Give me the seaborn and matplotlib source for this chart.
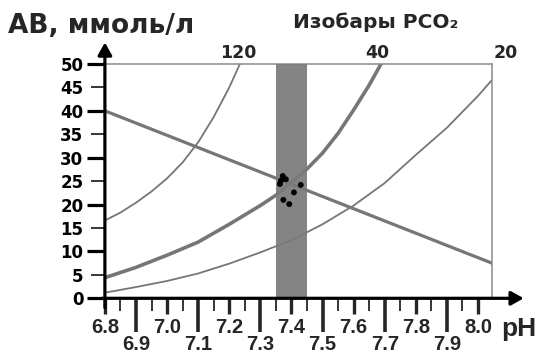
import numpy as np
import pandas as pd
import matplotlib
matplotlib.use("Agg")
import matplotlib.pyplot as plt
import seaborn as sns

# ---------------- data ----------------
ph_120 = [6.80, 6.85, 6.90, 6.95, 7.00, 7.05, 7.10, 7.15, 7.20, 7.234]
ab_120 = [16.6, 18.3, 20.4, 22.8, 25.6, 29.0, 33.3, 38.7, 45.0, 50.0]

ph_40 = [6.80, 6.90, 7.00, 7.10, 7.20, 7.30, 7.35, 7.40, 7.45, 7.50, 7.55, 7.60, 7.65, 7.688]
ab_40 = [4.4, 6.6, 9.2, 12.0, 15.8, 19.8, 22.0, 24.8, 27.6, 31.0, 35.2, 40.2, 45.5, 50.0]

ph_20 = [6.80, 6.90, 7.00, 7.10, 7.20, 7.30, 7.40, 7.50, 7.60, 7.70, 7.80, 7.90, 8.00, 8.045]
ab_20 = [1.2, 2.4, 3.7, 5.3, 7.4, 9.8, 12.4, 15.8, 19.8, 24.6, 30.6, 36.4, 43.2, 46.6]

ph_buffer = [6.80, 8.045]
ab_buffer = [40.0, 7.5]

dot_ph = [7.372, 7.382, 7.363, 7.366, 7.430, 7.408, 7.374, 7.393]
dot_ab = [26.1, 25.4, 24.4, 25.1, 24.2, 22.6, 21.0, 20.1]

norm_band = [7.35, 7.45]

isobar_labels = ["120", "40", "20"]
isobar_label_ph = [7.23, 7.675, 8.09]

y_ticks = [0, 5, 10, 15, 20, 25, 30, 35, 40, 45, 50]
y_ticklabels = ["0", "5", "10", "15", "20", "25", "30", "35", "40", "45", "50"]
x_row1 = ["6.8", "7.0", "7.2", "7.4", "7.6", "7.8", "8.0"]
x_row2 = ["6.9", "7.1", "7.3", "7.5", "7.7", "7.9"]

title_left = "АВ, ммоль/л"
title_right = "Изобары PCO₂"
x_name = "pH"

# ---------------- figure ----------------
sns.set_style("white")
plt.rcParams["font.family"] = ["DejaVu Sans"]

W, H = 539, 354
fig = plt.figure(figsize=(W / 100, H / 100), dpi=100)
x0, x1, y0, y1 = 104.9, 492.0, 298.3, 64.0
ax = fig.add_axes([x0 / W, (H - y0) / H, (x1 - x0) / W, (y0 - y1) / H])
ax.set_xlim(6.8, 8.045)
ax.set_ylim(0, 50)

line_col = "#767676"
sns.lineplot(x=ph_120, y=ab_120, ax=ax, color=line_col, lw=1.3, sort=False, zorder=2)
sns.lineplot(x=ph_20, y=ab_20, ax=ax, color=line_col, lw=1.3, sort=False, zorder=2)
sns.lineplot(x=ph_40, y=ab_40, ax=ax, color=line_col, lw=2.6, sort=False, zorder=2)
sns.lineplot(x=ph_buffer, y=ab_buffer, ax=ax, color=line_col, lw=2.3, sort=False, zorder=2)

ax.axvspan(norm_band[0], norm_band[1], color="#7a7a7a", alpha=0.92, lw=0, zorder=3)
sns.scatterplot(x=dot_ph, y=dot_ab, ax=ax, color="black", s=18, edgecolor="none",
                zorder=4, legend=False)

# frame
for s in ["left", "bottom"]:
    ax.spines[s].set_visible(False)
for s in ["top", "right"]:
    ax.spines[s].set_color("#8a8a8a")
    ax.spines[s].set_linewidth(1.1)

# axes with arrows
ax.annotate("", xy=(6.8, 54.6), xytext=(6.8, -2.0), xycoords="data",
            arrowprops=dict(arrowstyle="-|>,head_length=0.75,head_width=0.42",
                            lw=2.3, color="black", shrinkA=0, shrinkB=0),
            annotation_clip=False, zorder=6)
ax.annotate("", xy=(8.147, 0), xytext=(6.79, 0), xycoords="data",
            arrowprops=dict(arrowstyle="-|>,head_length=0.75,head_width=0.42",
                            lw=2.3, color="black", shrinkA=0, shrinkB=0),
            annotation_clip=False, zorder=6)

# y ticks
ax.set_yticks(y_ticks)
ax.set_yticklabels(y_ticklabels)
ax.tick_params(axis="y", direction="out", length=13, width=2.3, pad=2.5,
               labelsize=12, colors="black", left=True)
for lbl in ax.get_yticklabels():
    lbl.set_fontweight("bold")
for t, v in zip(ax.yaxis.get_major_ticks(), y_ticks):
    if v % 10 == 0:
        t.tick1line.set_markersize(13)
        t.tick1line.set_markeredgewidth(2.3)
    else:
        t.tick1line.set_markersize(10)
        t.tick1line.set_markeredgewidth(1.1)

# x ticks
x_tick_pos = np.round(np.arange(6.8, 8.0001, 0.05), 2)
ax.set_xticks(x_tick_pos)
ax.tick_params(axis="x", direction="out", labelbottom=False, bottom=True)
for i, t in enumerate(ax.xaxis.get_major_ticks()):
    if i % 2 == 1:
        t.tick1line.set_markersize(9)
        t.tick1line.set_markeredgewidth(1.3)
    elif (i // 2) % 2 == 1:
        t.tick1line.set_markersize(24.5)
        t.tick1line.set_markeredgewidth(2.6)
    else:
        t.tick1line.set_markersize(11.5)
        t.tick1line.set_markeredgewidth(2.4)

lab_font = dict(family=["Liberation Sans", "DejaVu Sans"], weight="bold", fontsize=14.5)
for lbl in x_row1:
    ax.annotate(lbl, xy=(float(lbl), 0), xycoords=("data", "axes fraction"),
                xytext=(0, -25.0), textcoords="offset points", ha="center",
                va="baseline", annotation_clip=False, **lab_font)
for lbl in x_row2:
    ax.annotate(lbl, xy=(float(lbl), 0), xycoords=("data", "axes fraction"),
                xytext=(0, -37.0), textcoords="offset points", ha="center",
                va="baseline", annotation_clip=False, **lab_font)

fig.text(519 / W, 1 - 336 / H, x_name, ha="center", va="baseline", fontsize=19,
         family=["Liberation Sans", "DejaVu Sans"], weight="bold")

# titles
fig.text(8 / W, 1 - 33.3 / H, title_left, ha="left", va="baseline", fontsize=19,
         weight="bold")
fig.text(293 / W, 1 - 28.3 / H, title_right, ha="left", va="baseline", fontsize=14.5,
         weight="bold")

# isobar labels
for lbl, p in zip(isobar_labels, isobar_label_ph):
    ax.annotate(lbl, xy=(p, 50), xycoords="data", xytext=(0, 4.5),
                textcoords="offset points", ha="center", va="baseline",
                fontsize=12.5, weight="bold", annotation_clip=False)

fig.savefig("out.png", dpi=100)
